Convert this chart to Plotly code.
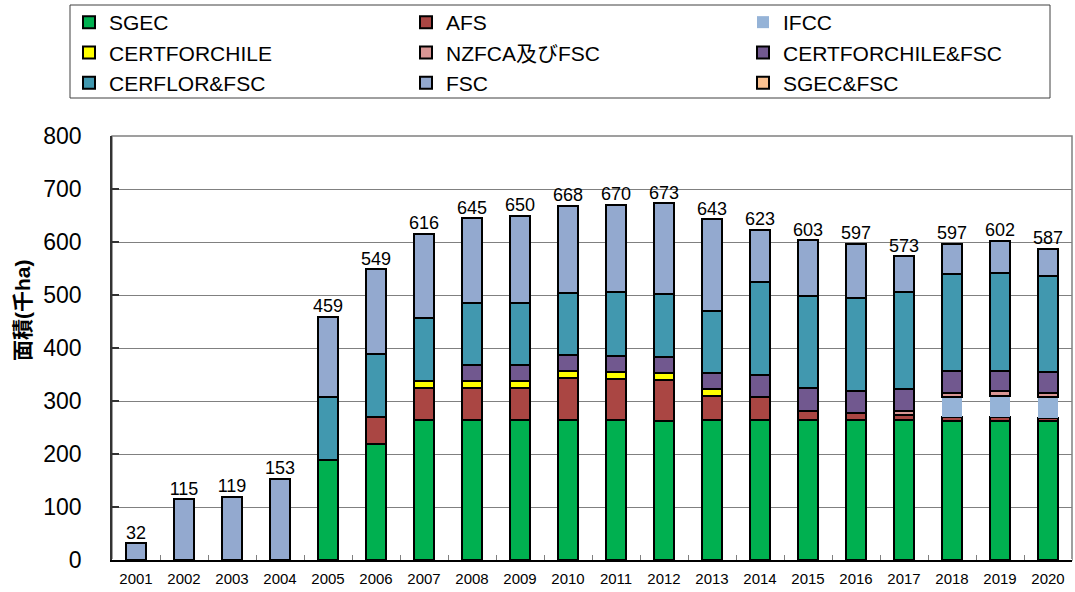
import plotly.graph_objects as go

years = [str(y) for y in range(2001, 2021)]

sgec        = [0, 0, 0, 0, 189, 218, 264, 264, 264, 264, 264, 263, 264, 264, 264, 264, 264, 263, 263, 263]
afs         = [0, 0, 0, 0, 0, 52, 60, 60, 60, 79, 78, 77, 45, 44, 18, 13, 10, 7, 7, 4]
ifcc        = [0, 0, 0, 0, 0, 0, 0, 0, 0, 0, 0, 0, 0, 0, 0, 0, 0, 38, 39, 40]
certforchile = [0, 0, 0, 0, 0, 0, 14, 14, 13, 14, 13, 13, 13, 0, 0, 0, 0, 0, 0, 0]
nzfca_fsc   = [0, 0, 0, 0, 0, 0, 0, 0, 0, 0, 0, 0, 0, 0, 0, 0, 8, 8, 9, 9]
certforchile_fsc = [0, 0, 0, 0, 0, 0, 0, 29, 30, 30, 30, 30, 30, 42, 42, 41, 41, 41, 39, 39]
sgec_fsc    = [0] * 20
cerflor_fsc = [0, 0, 0, 0, 118, 119, 119, 118, 118, 116, 121, 119, 118, 175, 174, 177, 183, 183, 184, 180]
fsc         = [32, 115, 119, 153, 152, 160, 159, 160, 165, 165, 164, 171, 173, 98, 105, 102, 67, 57, 61, 52]

series = [
    ("SGEC", sgec, "#00B050", 1, True),
    ("AFS", afs, "#AA4643", 2, True),
    ("IFCC", ifcc, "#95B3D7", 3, False),
    ("CERTFORCHILE", certforchile, "#FFFF00", 4, True),
    ("NZFCA及びFSC", nzfca_fsc, "#D99694", 5, True),
    ("CERTFORCHILE&FSC", certforchile_fsc, "#71588F", 6, True),
    ("SGEC&FSC", sgec_fsc, "#FAC090", 9, True),
    ("CERFLOR&FSC", cerflor_fsc, "#4198AF", 7, True),
    ("FSC", fsc, "#93A9CF", 8, True),
]

FONT = "Liberation Sans, Noto Sans CJK JP, sans-serif"
L, R, T, B = 112, 3, 136, 32
W, H = 1075, 592
PW, PH = W - L - R, H - T - B

def px_x(p):
    return (p - L) / PW

def px_y(p):
    return 1 + (T - p) / PH

fig = go.Figure()
for name, vals, color, rank, outline in series:
    fig.add_trace(go.Bar(
        x=years, y=vals, name=name, legendrank=rank,
        marker=dict(color=color,
                    line=dict(color="#000000", width=2 if outline else 0)),
    ))

totals = [sum(v) for v in zip(sgec, afs, ifcc, certforchile, nzfca_fsc,
                               certforchile_fsc, sgec_fsc, cerflor_fsc, fsc)]
fig.add_trace(go.Scatter(
    x=years, y=totals, mode="text", text=[str(t) for t in totals],
    textposition="top center", showlegend=False, hoverinfo="skip",
    textfont=dict(size=18, color="#000000", family=FONT),
))

fig.update_layout(
    width=W, height=H,
    barmode="stack", bargap=0.58,
    plot_bgcolor="white", paper_bgcolor="white",
    margin=dict(l=L, r=R, t=T, b=B, autoexpand=False),
    font=dict(family=FONT, color="#000000"),
    legend=dict(
        orientation="h", x=px_x(69), xanchor="left", y=px_y(2), yanchor="top",
        entrywidth=292, entrywidthmode="pixels",
        borderwidth=0, bgcolor="rgba(0,0,0,0)",
        font=dict(size=21, family=FONT),
        traceorder="normal", itemsizing="constant", tracegroupgap=0,
    ),
    xaxis=dict(
        type="category", range=[-0.5, len(years) - 0.5],
        showline=True, linecolor="#000000", linewidth=1.5,
        ticks="inside", tickson="boundaries", ticklen=5, tickcolor="#808080",
        tickfont=dict(size=15, family=FONT), automargin=False,
        ticklabelstandoff=4,
    ),
    yaxis=dict(
        range=[0, 800], dtick=100, showgrid=True, gridcolor="#808080", gridwidth=1,
        showline=True, linecolor="#333333", linewidth=1.5, mirror=False,
        ticks="inside", ticklen=7, tickcolor="#333333", tickwidth=1.5,
        tickfont=dict(size=23, family=FONT), automargin=False,
        ticklabelstandoff=24,
    ),
)

fig.add_annotation(
    text="<b>面積(千ha)</b>", xref="paper", yref="paper",
    x=px_x(22), y=px_y(310), xanchor="center", yanchor="middle",
    textangle=-90, showarrow=False,
    font=dict(size=21, family=FONT, color="#000000"),
)

# legend frame
fig.add_shape(type="rect", xref="paper", yref="paper",
              x0=px_x(70), x1=px_x(1050), y0=px_y(98), y1=px_y(5),
              line=dict(color="#404040", width=1))

# plot frame (top/right) in gray
fig.add_shape(type="rect", xref="paper", yref="paper", x0=0, x1=1, y0=0, y1=1,
              line=dict(color="#808080", width=1.5), layer="below")

fig.write_html("out.html", config={"displayModeBar": False},
               post_script="document.body.style.margin='0';")
